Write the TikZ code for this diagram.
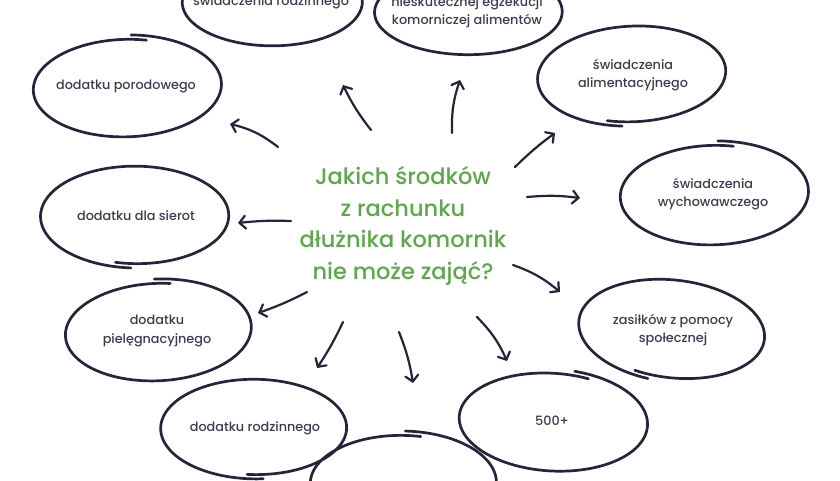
\documentclass[tikz,border=0pt]{standalone}
\usepackage{fontspec}
\setmainfont{Poppins}
\newfontfamily\pmed{Poppins Medium}
\usetikzlibrary{arrows.meta,shapes.geometric}
\definecolor{inkline}{HTML}{23263B}
\definecolor{inktext}{HTML}{3A3D50}
\definecolor{qgreen}{HTML}{5DA84A}
\newcommand\sketchell[5]{%
  \begin{scope}[shift={(#1.center)},rotate=#5]
    \draw[ellline] plot[smooth,domain=0:370,samples=90,variable=\t]
      ({#2*(0.97+0.06*\t/370)*cos(#4+\t)},{#3*(0.95+0.09*\t/370)*sin(#4+\t)});
  \end{scope}}
\begin{document}
\begin{tikzpicture}[x=1pt,y=1pt,
  ellline/.style={draw=inkline,line width=2.7pt,line cap=round},
  elltext/.style={text=inktext,font=\pmed\fontsize{12.8}{18.5}\selectfont,align=center,inner sep=0pt},
  arr/.style={draw=inkline,line width=2.2pt,line cap=round,line join=round,
    -{Straight Barb[length=6pt,width=13pt,line cap=round]}},
  question/.style={text=qgreen,font=\pmed\fontsize{22.5}{31.5}\selectfont,align=center,inner sep=0pt}]
\useasboundingbox (0,0) rectangle (840,-480);
\fill[white] (0,0) rectangle (840,-480);

% central question
\node[question] (q) at (403,-226) {Jakich środków\\z rachunku\\dłużnika komornik\\nie może zająć?};

% ellipse nodes
\node[elltext] (rodz) at (271,-2) {świadczenia rodzinnego};
\node[elltext] (niesk) at (467,-12) {nieskutecznej egzekucji\\komorniczej alimentów};
\node[elltext] (alim) at (633,-75) {świadczenia\\alimentacyjnego};
\node[elltext] (porod) at (126,-87) {dodatku porodowego};
\node[elltext] (wych) at (713,-194) {świadczenia\\wychowawczego};
\node[elltext] (sier) at (136,-216) {dodatku dla sierot};
\node[elltext] (piel) at (157,-331) {dodatku\\pielęgnacyjnego};
\node[elltext] (zas) at (673,-330) {zasiłków z pomocy\\społecznej};
\node[elltext] (drodz) at (255,-428) {dodatku rodzinnego};
\node[elltext] (five) at (552,-421) {500+};
\coordinate (bot) at (402,-483);

% ellipse outlines
\sketchell{rodz}{90}{44}{80}{0}
\sketchell{niesk}{94}{43}{95}{0}
\begin{scope}[shift={(0,-6)}]\sketchell{alim}{94}{49}{252}{3}\end{scope}
\begin{scope}[shift={(0,4)}]\sketchell{porod}{94}{50}{76}{2}\end{scope}
\begin{scope}[shift={(0,3)}]\sketchell{wych}{94}{51}{76}{2}\end{scope}
\begin{scope}[shift={(0,-5)}]\sketchell{sier}{94}{50}{257}{0}\end{scope}
\begin{scope}[shift={(0,-1)}]\sketchell{piel}{93}{50}{80}{3}\end{scope}
\begin{scope}[shift={(0,-2)}]\sketchell{zas}{93}{50}{248}{-6}\end{scope}
\begin{scope}[shift={(0,-3)}]\sketchell{drodz}{93}{49}{265}{0}\end{scope}
\begin{scope}[shift={(0,-1)}]\sketchell{five}{94}{50}{68}{-3}\end{scope}
\sketchell{bot}{93}{50}{78}{0}

% arrow end points
\coordinate (t1) at (278,-147); \coordinate (h1) at (230,-124);
\coordinate (t2) at (371,-130); \coordinate (h2) at (343,-85);
\coordinate (t3) at (452,-133); \coordinate (h3) at (460,-80);
\coordinate (t4) at (515,-167); \coordinate (h4) at (555,-133);
\coordinate (t5) at (527,-197); \coordinate (h5) at (580,-198);
\coordinate (t6) at (291,-221); \coordinate (h6) at (238,-223);
\coordinate (t7) at (307,-292); \coordinate (h7) at (258,-313);
\coordinate (t8) at (343,-322); \coordinate (h8) at (317,-368);
\coordinate (t9) at (399,-332); \coordinate (h9) at (413,-383);
\coordinate (t10) at (477,-317); \coordinate (h10) at (507,-361);
\coordinate (t11) at (513,-265); \coordinate (h11) at (560,-292);

\draw[arr] (t1) to[bend right=12] (h1);
\draw[arr] (t2) to[bend left=6] (h2);
\draw[arr] (t3) to[bend left=10] (h3);
\draw[arr] (t4) to[bend left=4] (h4);
\draw[arr] (t5) to[bend left=6] (h5);
\draw[arr] (t6) to[bend right=4] (h6);
\draw[arr] (t7) to[bend left=4] (h7);
\draw[arr] (t8) to[bend left=4] (h8);
\draw[arr] (t9) to[bend left=6] (h9);
\draw[arr] (t10) to[bend left=10] (h10);
\draw[arr] (t11) to[bend left=10] (h11);
\end{tikzpicture}
\end{document}
